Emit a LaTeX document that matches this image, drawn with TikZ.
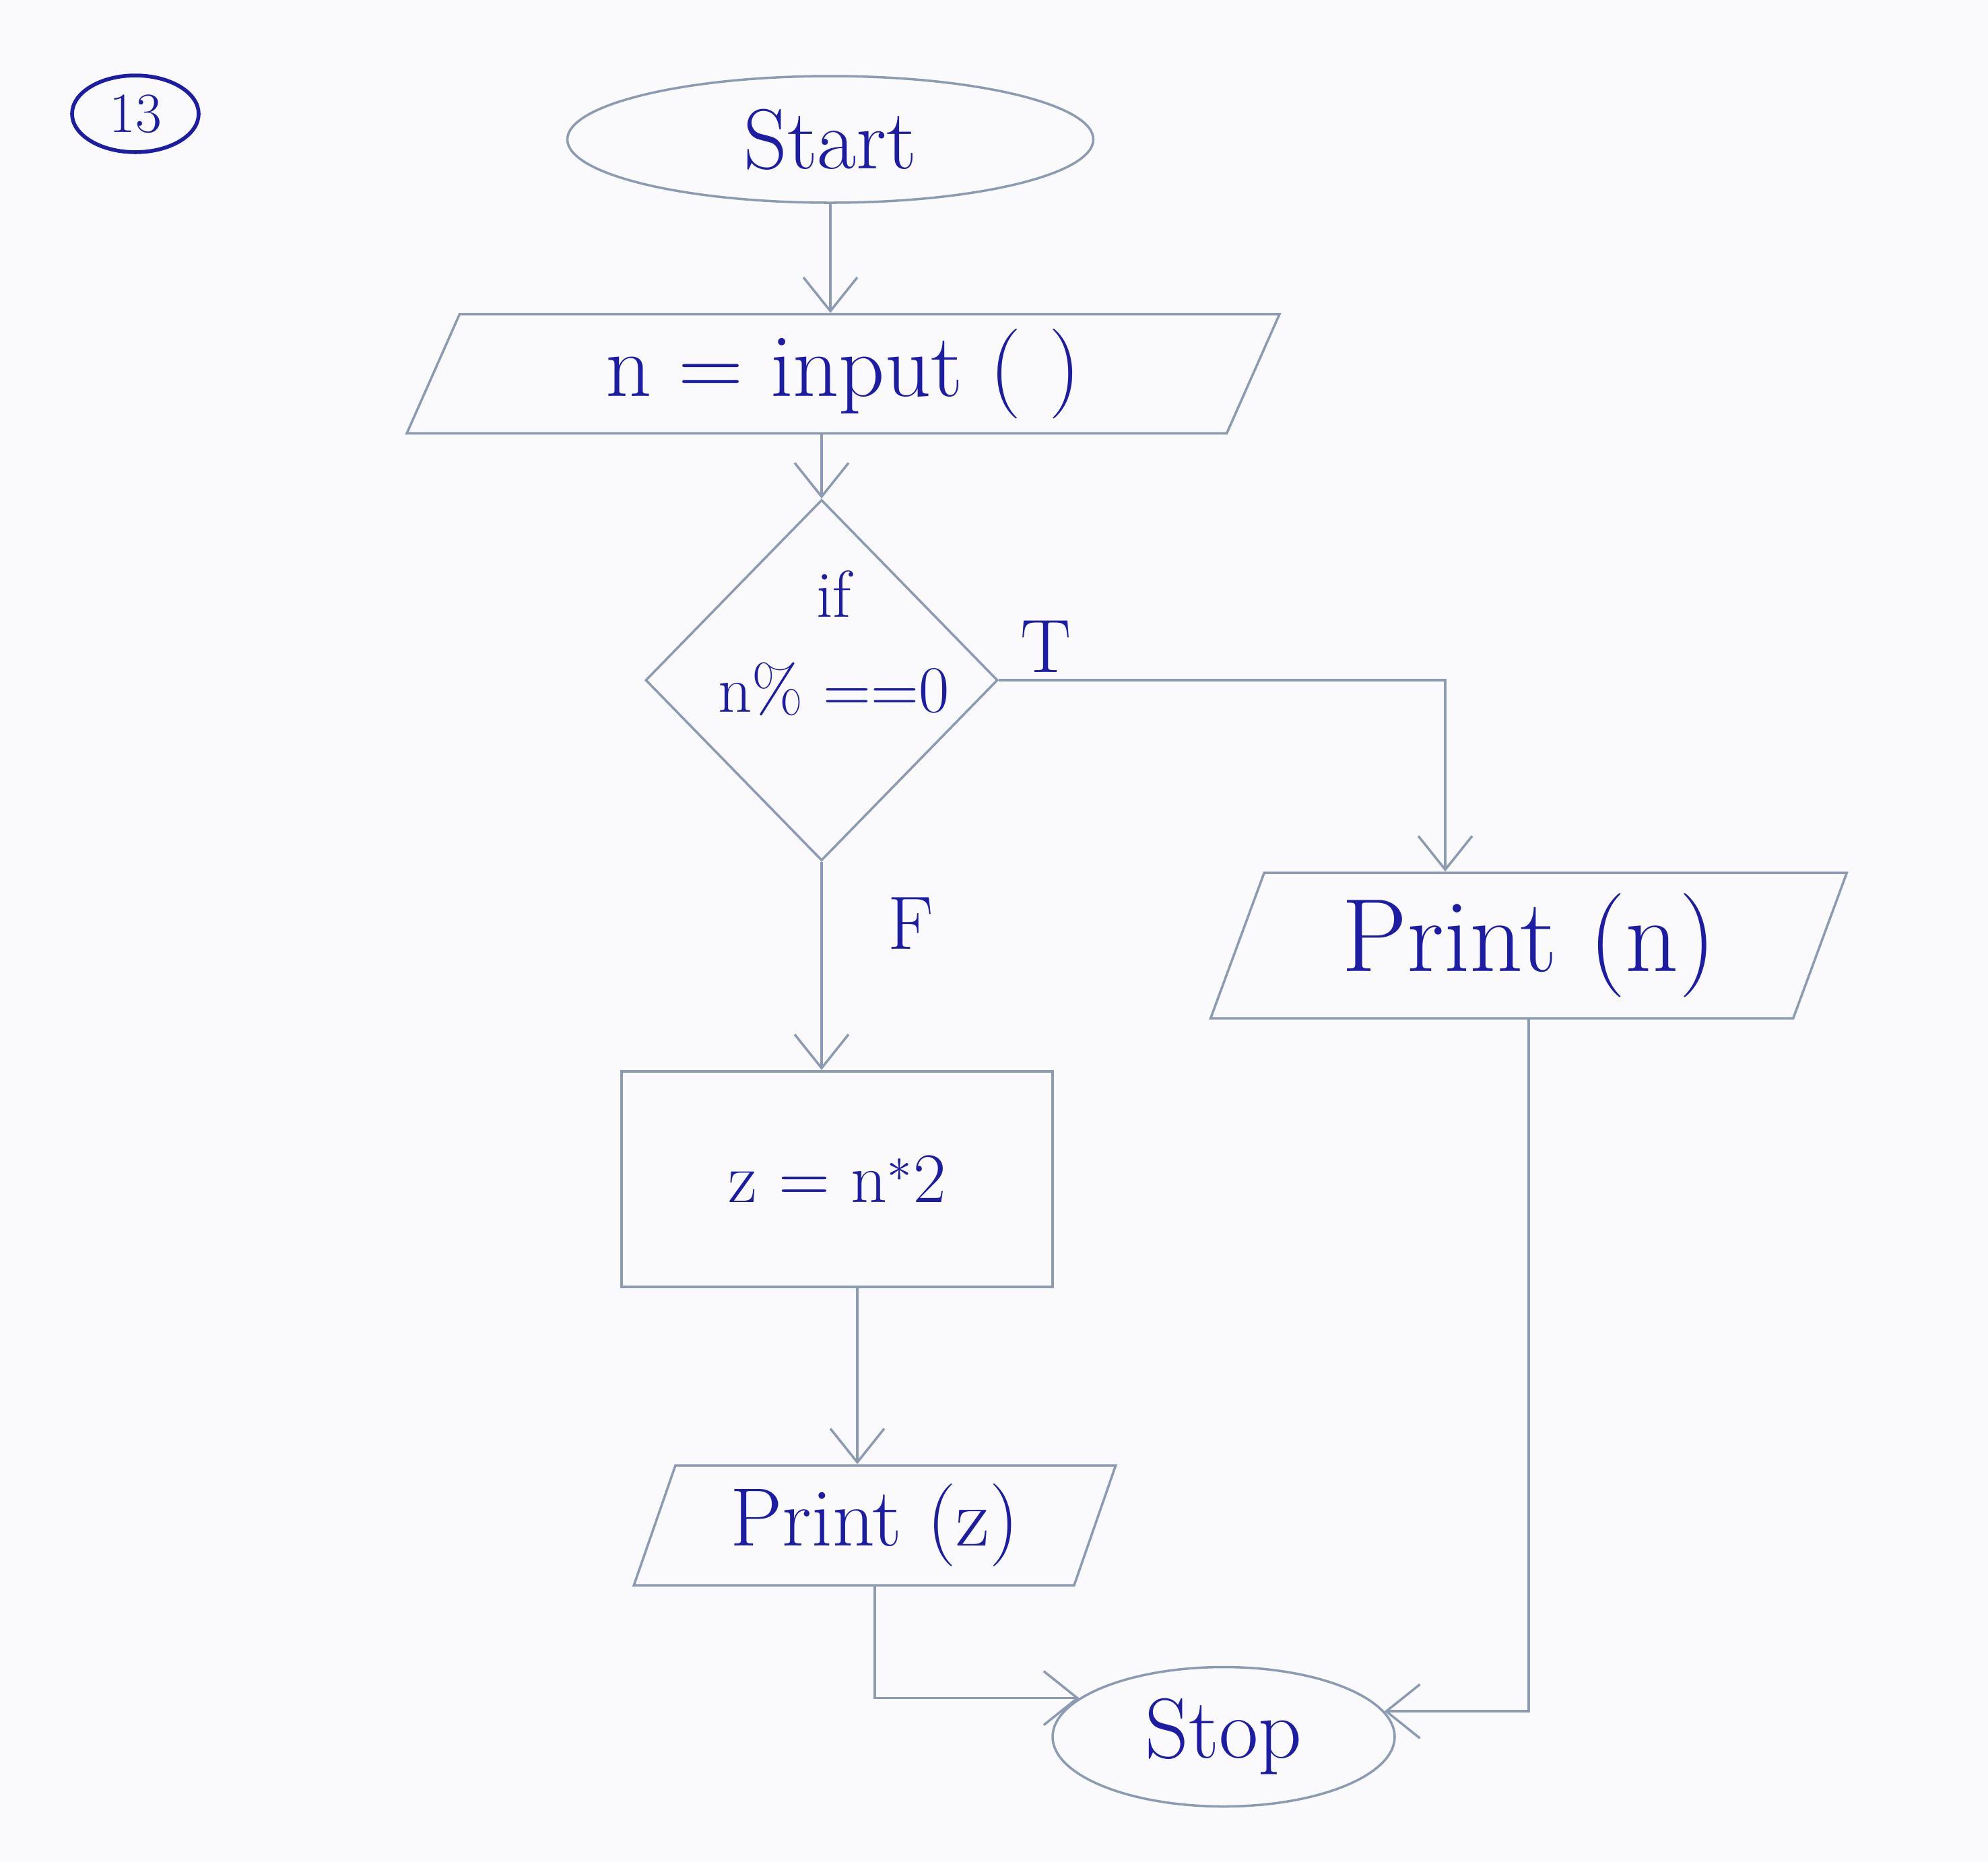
\documentclass[tikz,border=0pt]{standalone}
\usepackage{tikz}
\usetikzlibrary{shapes,positioning,arrows.meta,calc}
\definecolor{pencil}{RGB}{140,155,178}
\definecolor{ink}{RGB}{28,28,165}
\definecolor{paper}{RGB}{250,250,252}
\tikzstyle{startstop} = [ellipse, draw=pencil, line width=1pt, text=ink, inner sep=0pt, font=\fontsize{36}{40}\selectfont]
\tikzstyle{io} = [trapezium, trapezium left angle=70, trapezium right angle=110, trapezium stretches=true, draw=pencil, line width=1pt, text=ink, inner sep=0pt, font=\fontsize{36}{40}\selectfont]
\tikzstyle{process} = [rectangle, draw=pencil, line width=1.2pt, text=ink, inner sep=0pt, font=\fontsize{30}{36}\selectfont]
\tikzstyle{decision} = [diamond, draw=pencil, line width=1pt, inner sep=0pt]
\tikzstyle{lbl} = [text=ink, font=\fontsize{32}{36}\selectfont]
\tikzstyle{arrow} = [line width=1pt, draw=pencil, -{Straight Barb[length=5mm,width=8mm]}]

\begin{document}
\begin{tikzpicture}
\fill[paper] (0,0) rectangle (29.52,-27.64);
\useasboundingbox (0,0) rectangle (29.52,-27.64);

\node[ellipse, draw=ink, line width=1.6pt, minimum width=1.88cm, minimum height=1.13cm, text=ink, font=\fontsize{24}{28}\selectfont] (num) at (2.01,-1.69) {13};

\node[startstop, minimum width=7.81cm, minimum height=1.88cm] (start) at (12.33,-2.07) {Start};
\node[io, minimum width=13cm, minimum height=1.77cm, font=\fontsize{38}{42}\selectfont] (inp) at (12.52,-5.55) {n = input ( )};
\node[decision, minimum width=5.23cm, minimum height=5.36cm] (dec) at (12.2,-10.1) {};
\node[text=ink, align=center, font=\fontsize{28}{40}\selectfont] (dectext) at (12.38,-9.55) {if\\n\% ==0};
\node[lbl] (T) at (15.53,-9.6) {T};
\node[lbl] (F) at (13.52,-13.71) {F};

\node[io, minimum width=9.47cm, minimum height=2.16cm, font=\fontsize{44}{48}\selectfont] (pn) at (22.70,-14.04) {Print (n)};
\node[process, minimum width=6.4cm, minimum height=3.2cm] (zbox) at (12.43,-17.51) {z = n$^{*}$2};
\node[io, minimum width=7.16cm, minimum height=1.78cm, font=\fontsize{35}{40}\selectfont] (pz) at (12.99,-22.65) {Print (z)};
\node[startstop, minimum width=5.08cm, minimum height=2.07cm] (stop) at (18.17,-25.79) {Stop};

\draw[arrow] (start.south) -- (start.south |- inp.north);
\draw[arrow] (inp.south -| dec.north) -- (dec.north);
\draw[arrow] (dec.east) -| ([xshift=-12.4mm]pn.north);
\draw[arrow] (dec.south) -- (zbox.north -| dec.south);
\draw[arrow] ([xshift=3mm]zbox.south) -- ([xshift=3mm]zbox.south |- pz.north);
\draw[arrow] (pz.south) |- (stop.165);
\draw[arrow] (pn.south) |- (stop.9);

\end{tikzpicture}
\end{document}
